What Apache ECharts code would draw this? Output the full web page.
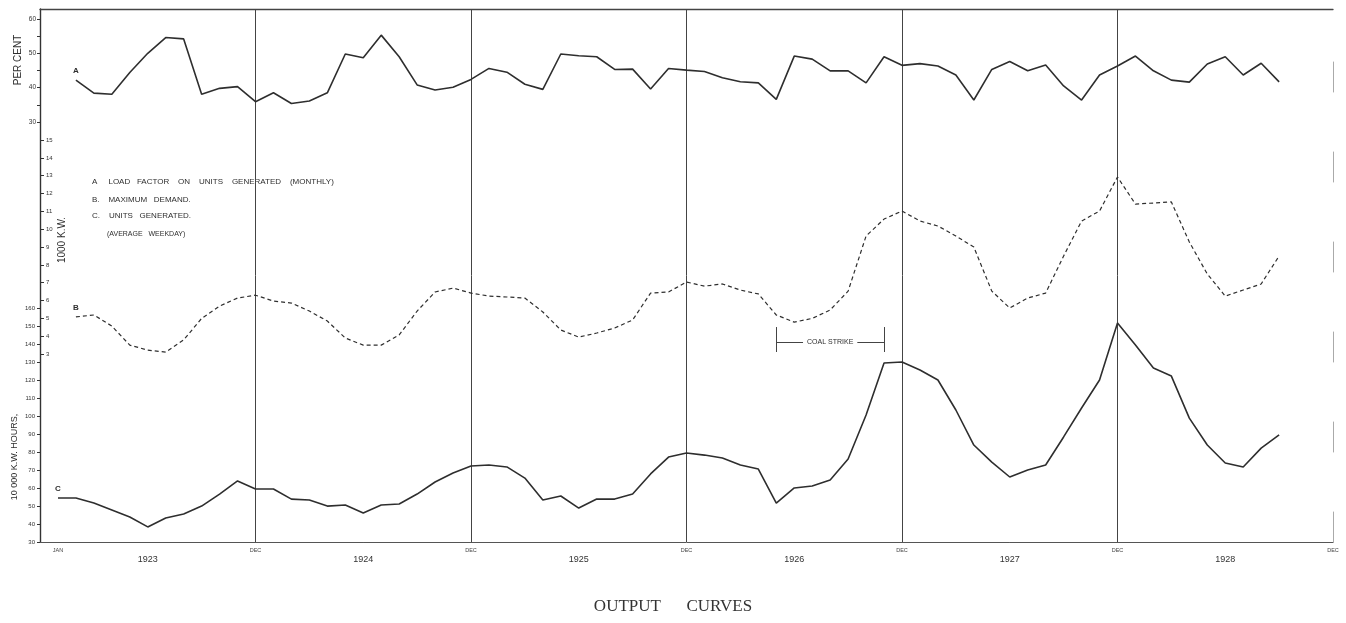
<!DOCTYPE html>
<html><head><meta charset="utf-8">
<script src="https://cdn.jsdelivr.net/npm/echarts@6/dist/echarts.min.js"></script>
<style>html,body{margin:0;padding:0;background:#fff}#c{width:1346px;height:623px}</style>
</head><body><div id="c"></div>
<script>
// month index: 0 = Dec 1922, 1 = Jan 1923, 12 = Dec 1923 ... 72 = Dec 1928
const startMonthA = 2;
const startMonthB = 2;
const startMonthC = 1;
// A: Load factor on units generated (monthly), per cent
const loadFactorA = [42.2,38.4,38.1,44.4,50.0,54.6,54.2,38.1,39.8,40.3,35.9,38.5,35.4,36.1,38.5,49.8,48.7,55.3,49.0,40.8,39.3,40.1,42.4,45.6,44.5,41.0,39.5,49.8,49.3,49.0,45.3,45.4,39.6,45.6,45.1,44.7,42.9,41.7,41.4,36.6,49.2,48.3,44.9,44.9,41.4,49.0,46.5,47.0,46.3,43.7,36.4,45.3,47.6,44.9,46.6,40.5,36.4,43.7,46.3,49.2,44.9,42.2,41.6,46.9,49.0,43.7,47.1,41.7];
// B: Maximum demand, 1000 kW
const maxDemandB = [5.08,5.19,4.57,3.5,3.22,3.11,3.79,5.0,5.69,6.14,6.3,5.97,5.86,5.41,4.85,3.9,3.5,3.5,4.07,5.41,6.48,6.7,6.42,6.25,6.2,6.14,5.36,4.35,3.95,4.18,4.46,4.91,6.42,6.48,7.04,6.81,6.93,6.59,6.37,5.19,4.79,5.0,5.47,6.53,9.62,10.57,11.02,10.46,10.18,9.62,9.0,6.53,5.58,6.14,6.42,8.5,10.46,11.02,12.93,11.41,11.47,11.53,9.28,7.49,6.25,6.59,6.93,8.5];
// C: Units generated (average weekday), 10 000 kW hours
const unitsGenC = [54.5,54.5,51.7,47.8,43.9,38.4,43.4,45.6,50.0,56.7,64.0,59.5,59.5,53.9,53.4,50.0,50.6,46.1,50.6,51.2,56.7,63.4,68.4,72.3,72.9,71.8,65.6,53.4,55.6,48.9,53.9,53.9,56.7,67.9,77.3,79.6,78.4,76.8,72.9,70.6,51.7,60.1,61.2,64.5,76.2,100.7,129.7,130.2,125.8,120.2,103.5,84.0,74.5,66.2,70.1,72.9,88.5,104.6,120.2,151.9,139.7,126.9,122.4,99.0,84.0,74.0,71.8,82.3,89.6];

const yearSeparatorMonths = [12,24,36,48,60];
const monthTickMonths = [1,12,24,36,48,60,72];
const monthTickLabels = ['JAN','DEC','DEC','DEC','DEC','DEC','DEC'];
const yearLabelMonths = [6,18,30,42,54,66];
const yearLabels = ['1923','1924','1925','1926','1927','1928'];
const pctLabels = [30,40,50,60];
const pctTicks = [30,35,40,45,50,55,60];
const kwLabels = [3,4,5,6,7,8,9,10,11,12,13,14,15];
const kwhLabels = [30,40,50,60,70,80,90,100,110,120,130,140,150,160];
const coalStrikeMonths = [41,47];
const coalStrikeLevel = 141.4;
const coalStrikeBar = [135.8,149.7];

const ink = '#2e2e2e';
const hand = "'Liberation Sans Narrow','Liberation Sans',sans-serif";
const toPairs = (arr, start) => arr.map((v,i)=>[start+i, v]);

const chart = echarts.init(document.getElementById('c'), null, {renderer:'canvas'});
const option = {
  backgroundColor:'#fff',
  animation:false,
  title:{text:'OUTPUT      CURVES', left:'center', bottom:3,
    textStyle:{fontFamily:"'Liberation Serif',serif", fontWeight:'normal', fontSize:17, color:'#333'}},
  grid:{left:40, right:13, top:9, bottom:81},
  xAxis:[
    {type:'value', min:0, max:72, position:'bottom',
     axisLine:{show:true, onZero:false, lineStyle:{color:'#555', width:1}},
     axisTick:{show:false}, splitLine:{show:false},
     axisLabel:{customValues:monthTickMonths, fontSize:5.5, margin:5, color:'#444', fontFamily:hand,
       formatter:(v)=>monthTickLabels[monthTickMonths.indexOf(v)] || ''}},
    {type:'value', min:0, max:72, position:'bottom',
     axisLine:{show:false, onZero:false}, axisTick:{show:false}, splitLine:{show:false},
     axisLabel:{customValues:yearLabelMonths, fontSize:9, margin:13, color:'#333', fontFamily:hand,
       formatter:(v)=>yearLabels[yearLabelMonths.indexOf(v)] || ''}},
    {type:'value', min:0, max:72, position:'top',
     axisLine:{show:true, onZero:false, lineStyle:{color:'#444', width:1.3}},
     axisTick:{show:false}, axisLabel:{show:false}, splitLine:{show:false}}
  ],
  yAxis:[
    {type:'value', min:-92.33, max:62.91, position:'left',
     axisLine:{show:true, onZero:false, lineStyle:{color:'#333', width:1.4}},
     axisTick:{show:true, customValues:pctTicks, length:3, lineStyle:{color:'#333'}},
     axisLabel:{customValues:pctLabels, fontSize:6.5, margin:4, color:'#333', fontFamily:hand},
     splitLine:{show:false}},
    {type:'value', min:-7.54, max:22.35, position:'left',
     axisLine:{show:false, onZero:false},
     axisTick:{show:true, inside:true, customValues:kwLabels, length:4, lineStyle:{color:'#333'}},
     axisLabel:{inside:true, customValues:kwLabels, fontSize:6, margin:6, color:'#333', fontFamily:hand},
     splitLine:{show:false}},
    {type:'value', min:30, max:326.8, position:'left',
     axisLine:{show:false, onZero:false},
     axisTick:{show:true, customValues:kwhLabels, length:3, lineStyle:{color:'#333'}},
     axisLabel:{customValues:kwhLabels, fontSize:6, margin:5, color:'#333', fontFamily:hand},
     splitLine:{show:false}},
    {type:'value', min:0, max:1, position:'right',
     axisLine:{show:true, onZero:false, lineStyle:{color:'#aaa', width:1, type:[30,60]}},
     axisTick:{show:false}, axisLabel:{show:false}, splitLine:{show:false}}
  ],
  series:[
    {name:'A', type:'line', xAxisIndex:0, yAxisIndex:0, data:toPairs(loadFactorA,startMonthA),
     symbol:'none', lineStyle:{color:ink, width:1.6}, z:5,
     markPoint:{symbol:'circle', symbolSize:0, silent:true,
       label:{show:true, position:'top', distance:5, color:ink, fontSize:8, fontFamily:hand, fontWeight:'bold'},
       data:[{coord:[startMonthA, loadFactorA[0]], value:'A', label:{formatter:'A'}}]}},
    {name:'B', type:'line', xAxisIndex:0, yAxisIndex:1, data:toPairs(maxDemandB,startMonthB),
     symbol:'none', lineStyle:{color:ink, width:1.2, type:[4,3]}, z:5,
     markPoint:{symbol:'circle', symbolSize:0, silent:true,
       label:{show:true, position:'top', distance:5, color:ink, fontSize:8, fontFamily:hand, fontWeight:'bold'},
       data:[{coord:[startMonthB, maxDemandB[0]], value:'B', label:{formatter:'B'}}]}},
    {name:'C', type:'line', xAxisIndex:0, yAxisIndex:2, data:toPairs(unitsGenC,startMonthC),
     symbol:'none', lineStyle:{color:ink, width:1.6}, z:5,
     markPoint:{symbol:'circle', symbolSize:0, silent:true,
       label:{show:true, position:'top', distance:5, color:ink, fontSize:8, fontFamily:hand, fontWeight:'bold'},
       data:[{coord:[startMonthC, unitsGenC[0]], value:'C', label:{formatter:'C'}}]},
     markLine:{symbol:'none', silent:true, animation:false,
       lineStyle:{color:'#444', width:1, type:'solid'},
       label:{show:false},
       data:[
         ...yearSeparatorMonths.map(m=>({xAxis:m})),
         [{coord:[coalStrikeMonths[0], coalStrikeLevel],
           label:{show:true, position:'insideMiddle', distance:0, formatter:'COAL STRIKE', fontSize:7,
             color:ink, fontFamily:hand, backgroundColor:'#fff', padding:[1,4]}},
          {coord:[coalStrikeMonths[1], coalStrikeLevel]}],
         [{coord:[coalStrikeMonths[0], coalStrikeBar[0]]},{coord:[coalStrikeMonths[0], coalStrikeBar[1]]}],
         [{coord:[coalStrikeMonths[1], coalStrikeBar[0]]},{coord:[coalStrikeMonths[1], coalStrikeBar[1]]}]
       ]}}
  ],
  graphic:[
    {type:'text', x:18, y:60, rotation:Math.PI/2, style:{text:'PER CENT', fontSize:10, fontFamily:hand, fill:ink, align:'center', verticalAlign:'middle'}},
    {type:'text', x:62, y:240, rotation:Math.PI/2, style:{text:'1000 K.W.', fontSize:10, fontFamily:hand, fill:ink, align:'center', verticalAlign:'middle'}},
    {type:'text', x:15, y:457, rotation:Math.PI/2, style:{text:'10 000 K.W. HOURS,', fontSize:9, fontFamily:hand, fill:ink, align:'center', verticalAlign:'middle'}},
    {type:'text', x:92, y:182, style:{text:'A     LOAD   FACTOR    ON    UNITS    GENERATED    (MONTHLY)', fontSize:8, fontFamily:hand, fill:ink, verticalAlign:'middle'}},
    {type:'text', x:92, y:200, style:{text:'B.    MAXIMUM   DEMAND.', fontSize:8, fontFamily:hand, fill:ink, verticalAlign:'middle'}},
    {type:'text', x:92, y:216, style:{text:'C.    UNITS   GENERATED.', fontSize:8, fontFamily:hand, fill:ink, verticalAlign:'middle'}},
    {type:'text', x:107, y:234, style:{text:'(AVERAGE   WEEKDAY)', fontSize:7, fontFamily:hand, fill:ink, verticalAlign:'middle'}}
  ]
};
chart.setOption(option);
</script>
</body></html>
